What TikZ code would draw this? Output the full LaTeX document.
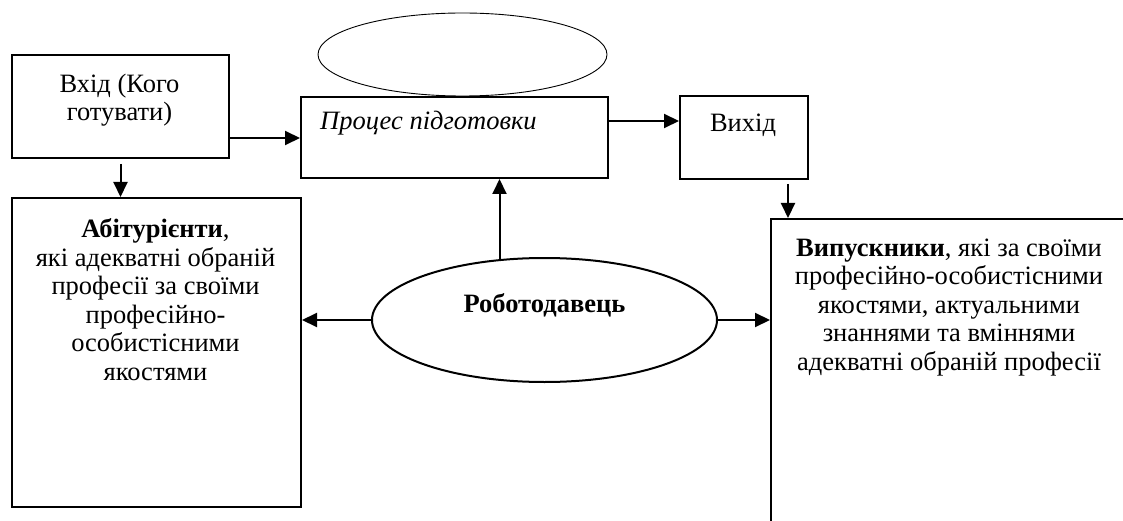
\documentclass[tikz,border=0pt]{standalone}
\usepackage{fontspec}
\setmainfont{Liberation Serif}
\usetikzlibrary{arrows.meta,shapes.geometric}
\begin{document}
\begin{tikzpicture}[x=1pt,y=-1pt,
  box/.style={draw,line width=2pt,rectangle,inner sep=0pt,anchor=north west},
  oval/.style={draw,line width=2pt,ellipse,inner sep=0pt},
  arr/.style={line width=2pt,-{Triangle[length=15pt,width=14pt]}},
  txt/.style={font=\fontsize{26.5}{28.5}\selectfont,align=center,anchor=base,inner sep=0pt}]
\useasboundingbox (0,0) rectangle (1123,521);
\clip (0,0) rectangle (1123,521);
\fill[white] (0,0) rectangle (1123,521);
% boxes
\node[box,minimum width=217pt,minimum height=103pt] (in) at (11,54) {};
\node[box,minimum width=307pt,minimum height=81pt] (proc) at (300,96) {};
\node[box,minimum width=128pt,minimum height=83pt] (out) at (679,95) {};
\node[box,minimum width=289pt,minimum height=309pt] (ab) at (11,197) {};
\node[box,minimum width=380pt,minimum height=340pt] (rb) at (770,218) {};
% ellipses
\node[draw,line width=0.9pt,ellipse,inner sep=0pt,minimum width=289pt,minimum height=83pt] (top) at (462.5,54.5) {};
\node[oval,minimum width=345pt,minimum height=124pt] (emp) at (544.5,320) {};
% texts (anchor at the baseline of the last line)
\node[txt] (intext) at (119.5,121) {Вхід (Кого\\готувати)};
\node[txt,anchor=base west] (proctext) at (320,130) {\itshape Процес підготовки};
\node[txt] (outtext) at (743,132) {Вихід};
\node[txt] (abtext) at (155.5,380) {\textbf{Абітурієнти},\\які адекватні обраній\\професії за своїми\\професійно-\\особистісними\\якостями};
\node[txt] (rbtext) at (949,370) {\textbf{Випускники}, які за своїми\\професійно-особистісними\\якостями, актуальними\\знаннями та вміннями\\адекватні обраній професії};
\node[txt] (emptext) at (544.5,312) {\bfseries Роботодавець};
% connectors
\draw[arr] (in.east |- 0,138) -- (proc.west |- 0,138);
\draw[arr] ([yshift=-5pt]in.south) -- (in.south |- ab.north);
\draw[arr] (proc.east |- 0,121) -- (out.west |- 0,121);
\draw[arr] ([yshift=-4pt]out.south -| 788,0) -- (rb.north -| 788,0);
\draw[arr] ([xshift=-45pt,yshift=-2pt]emp.north) -- ([xshift=-45pt]emp.north |- proc.south);
\draw[arr] (emp.west) -- (ab.east |- emp.west);
\draw[arr] (emp.east) -- (rb.west |- emp.east);
\end{tikzpicture}
\end{document}
